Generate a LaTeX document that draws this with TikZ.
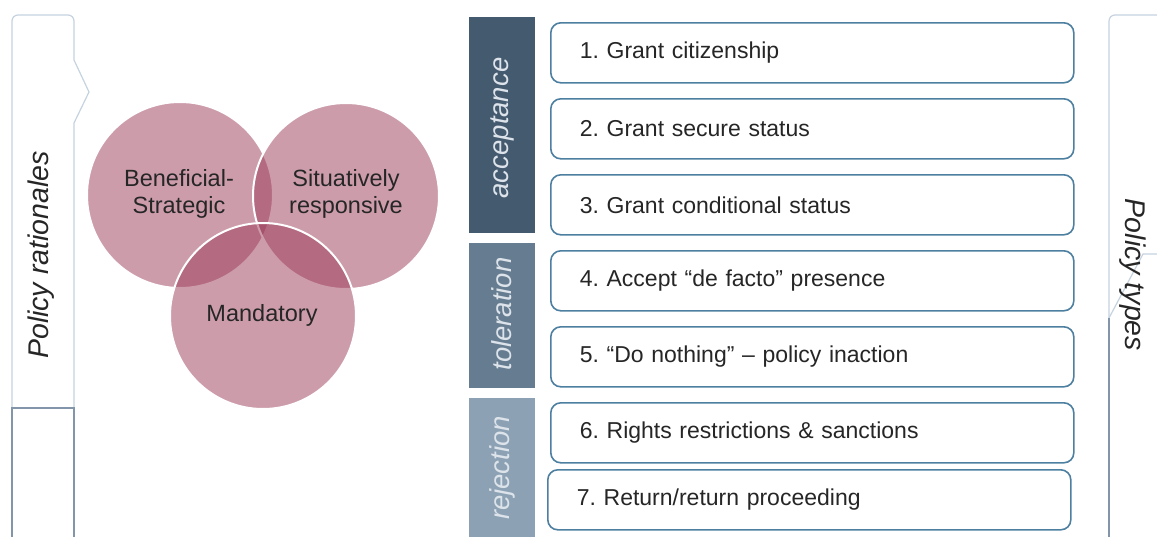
\documentclass[tikz,border=0pt]{standalone}
\usepackage{fontspec}
\setmainfont{Liberation Sans}
\frenchspacing
\definecolor{panelline}{HTML}{C5D2DF}
\definecolor{paneldark}{HTML}{8295AB}
\definecolor{venn}{HTML}{9B3A58}
\definecolor{accbar}{HTML}{445A6F}
\definecolor{tolbar}{HTML}{667C90}
\definecolor{rejbar}{HTML}{8CA2B4}
\definecolor{barlabel}{HTML}{DDE3EA}
\definecolor{boxline}{HTML}{4D7FA0}
\definecolor{ink}{HTML}{262626}
\begin{document}
\begin{tikzpicture}[x=1pt,y=-1pt,
  lightline/.style={draw=panelline, line width=1.2pt},
  darkline/.style={draw=paneldark, line width=1.5pt},
  paneltext/.style={font=\itshape\fontsize{28.5}{34}\selectfont, text=ink, inner sep=0pt},
  vennset/.style={circle, minimum size=186pt, fill=venn, fill opacity=0.5, draw=white, line width=2pt},
  venntext/.style={font=\fontsize{23.5}{27}\selectfont, text=ink, align=center, inner sep=0pt},
  groupbar/.style={minimum width=66pt, inner sep=0pt, anchor=north west},
  bartext/.style={font=\itshape\fontsize{27.5}{32}\selectfont, text=barlabel, inner sep=0pt, rotate=90},
  typebox/.style={draw=boxline, line width=1.6pt, rounded corners=10pt, fill=white,
    text width=465pt, inner xsep=29pt, minimum height=60pt, align=left, anchor=north west,
    font=\fontsize{23}{27}\selectfont, text=ink}]
\useasboundingbox (0,0) rectangle (1157,536);

% left panel: tab with a notch, and the lower box
\draw[lightline, rounded corners=6pt] (12,408) -- (12,15) -- (74,15) -- (74,40)
  [sharp corners] -- (74,60) -- (89,92) -- (74,123) -- (74,408);
\draw[darkline] (12,408) rectangle (74,545);
\node[paneltext, rotate=90] (rationales) at (41,255) {Policy rationales};

% right panel
\draw[lightline, rounded corners=6pt] (1109,318) -- (1109,15) -- (1165,15);
\draw[lightline] (1109,318) -- (1143,254) -- (1165,254);
\draw[darkline] (1109,318) -- (1109,545);
\node[paneltext, rotate=-90] (types) at (1133,275) {Policy types};

% Venn diagram of the three rationales
\node[vennset] (ben) at (180,195) {};
\node[vennset] (sit) at (346,196) {};
\node[vennset] (man) at (263,316) {};
\node[venntext] (benT) at (179,194) {Beneficial-\\Strategic};
\node[venntext] (sitT) at (346,194) {Situatively\\responsive};
\node[venntext] (manT) at (262,315) {Mandatory};

% group bars
\node[groupbar, fill=accbar, minimum height=216pt] (acc) at (469,17) {};
\node[groupbar, fill=tolbar, minimum height=145pt] (tol) at (469,243) {};
\node[groupbar, fill=rejbar, minimum height=145pt] (rej) at (469,398) {};
\node[bartext] (accT) at (502,128) {acceptance};
\node[bartext] (tolT) at (502,314) {toleration};
\node[bartext] (rejT) at (502,468) {rejection};

% policy types
\node[typebox] (p1) at (550,22)  {1. Grant citizenship};
\node[typebox] (p2) at (550,98)  {2. Grant secure status};
\node[typebox] (p3) at (550,174) {3. Grant conditional status};
\node[typebox] (p4) at (550,250) {4. Accept “de facto” presence};
\node[typebox] (p5) at (550,326) {5. “Do nothing” – policy inaction};
\node[typebox] (p6) at (550,402) {6. Rights restrictions \& sanctions};
\node[typebox] (p7) at (547,469) {7. Return/return proceeding};
\end{tikzpicture}
\end{document}
